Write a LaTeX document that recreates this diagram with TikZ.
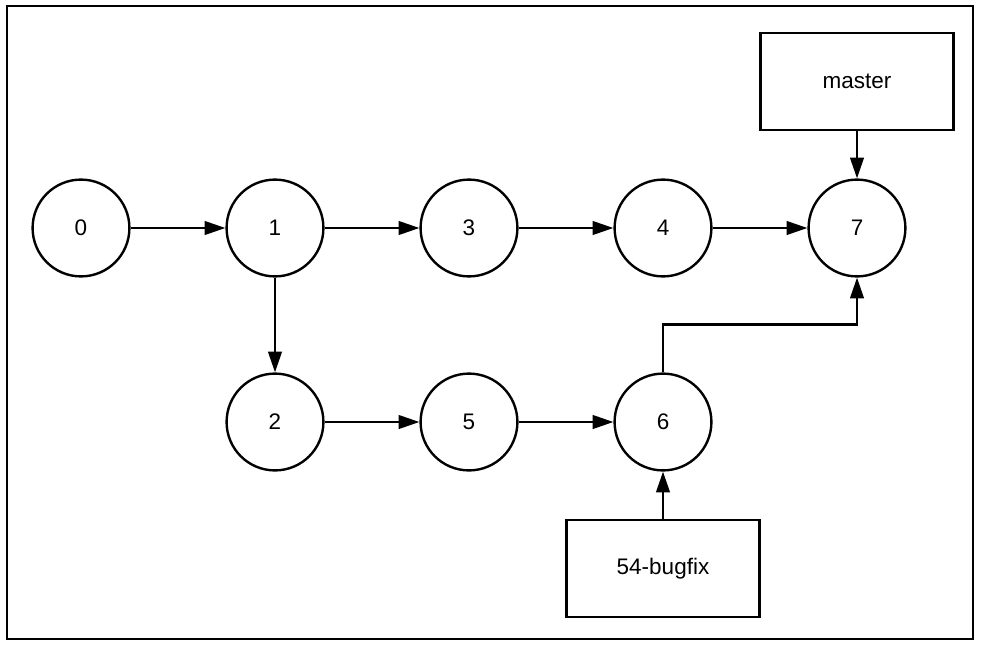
\documentclass[tikz,border=0pt]{standalone}
\usepackage{fontspec}
\setmainfont{Liberation Sans}
\usetikzlibrary{calc,arrows.meta}

\begin{document}
\begin{tikzpicture}[x=0.025cm, y=-0.025cm,
	commit/.style={circle, draw=black, line width=1.7pt, fill=white, inner sep=0, minimum size=2.42cm, font=\fontsize{16}{19}\selectfont},
	branch/.style={rectangle, draw=black, line width=1.7pt, fill=white, inner sep=0, minimum width=4.83cm, minimum height=2.42cm, font=\fontsize{16}{19}\selectfont},
	link/.style={line width=1.7pt, -{Triangle[length=5.2mm, width=3.4mm]}}]

		%frame
		\useasboundingbox (0,0) rectangle (981,645);
		\draw[line width=2pt] (7,6) rectangle (973,639) ;
		%commits
		\foreach \c/\x in {0/81,1/275,3/469,4/663,7/857} {
			\node[commit] at (\x,228) (n\c) {\c};
		}
		\foreach \c/\x in {2/275,5/469,6/663} {
			\node[commit] at (\x,422) (n\c) {\c};
		}
		%branches
		\node[branch] at (857,81.5) (master) {master};
		\node[branch] at (663,568.5) (bugfix) {54-bugfix};

		\foreach \a/\b in {0/1,1/3,3/4,4/7,2/5,5/6} {
			\draw[link] (n\a.east) -- (n\b.west);
		}
		\draw[link] (n1.south) -- (n2.north);
		\draw[link] (master.south) -- (n7.north);
		\draw[link] (bugfix.north) -- (n6.south);
		\draw[link] (n6.north) -- ++(0,-48) -| (n7.south);
	\end{tikzpicture}
\end{document}
